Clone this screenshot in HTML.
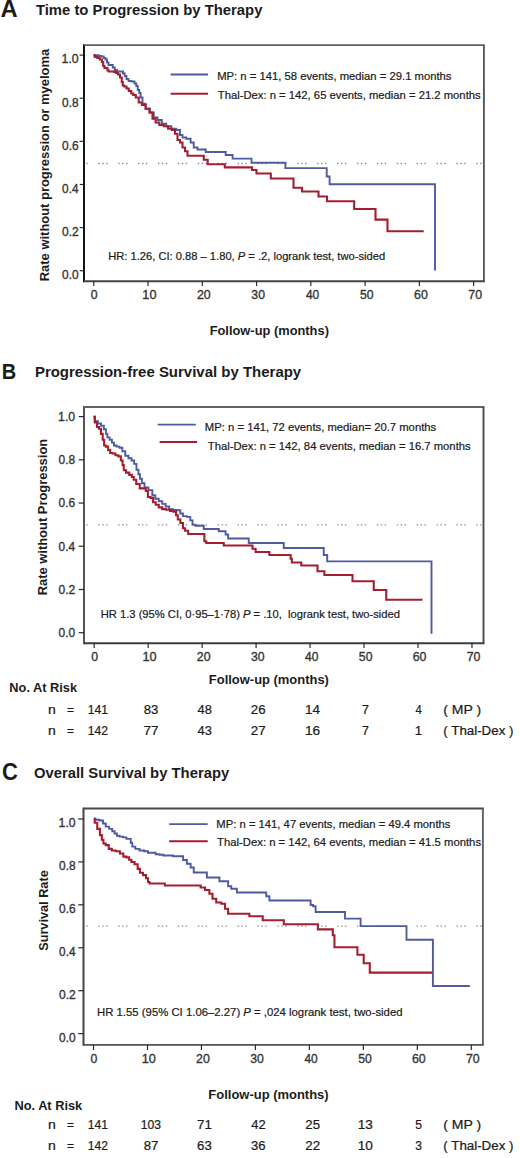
<!DOCTYPE html>
<html><head><meta charset="utf-8"><title>Kaplan-Meier curves by therapy</title>
<style>
html,body{margin:0;padding:0;background:#fff;}
svg{display:block;}
text{font-family:"Liberation Sans",sans-serif;white-space:pre;}
</style></head>
<body>
<svg width="520" height="1158" viewBox="0 0 520 1158">
<rect width="520" height="1158" fill="#fff"/>
<line x1="84.0" y1="44.20" x2="84.0" y2="282.20" stroke="#141414" stroke-width="2"/>
<line x1="84.0" y1="45.1" x2="484.80" y2="45.1" stroke="#606060" stroke-width="1.9"/>
<line x1="483.9" y1="45.1" x2="483.9" y2="281.3" stroke="#575757" stroke-width="1.9"/>
<line x1="84.0" y1="281.3" x2="484.80" y2="281.3" stroke="#444444" stroke-width="1.9"/>
<line x1="84.9" y1="163.5" x2="482.7" y2="163.5" stroke="#8a8a8a" stroke-width="1.3" stroke-dasharray="1.4 2.5 1.4 2.5 1.4 10.7" stroke-dashoffset="6.50"/>
<line x1="79.7" y1="270.72" x2="83.7" y2="270.72" stroke="#2a2a2a" stroke-width="1.2"/>
<line x1="79.7" y1="227.60" x2="83.7" y2="227.60" stroke="#2a2a2a" stroke-width="1.2"/>
<line x1="79.7" y1="184.48" x2="83.7" y2="184.48" stroke="#2a2a2a" stroke-width="1.2"/>
<line x1="79.7" y1="141.35" x2="83.7" y2="141.35" stroke="#2a2a2a" stroke-width="1.2"/>
<line x1="79.7" y1="98.23" x2="83.7" y2="98.23" stroke="#2a2a2a" stroke-width="1.2"/>
<line x1="79.7" y1="55.11" x2="83.7" y2="55.11" stroke="#2a2a2a" stroke-width="1.2"/>
<line x1="93.77" y1="281.0" x2="93.77" y2="286.0" stroke="#2a2a2a" stroke-width="1.2"/>
<line x1="148.04" y1="281.0" x2="148.04" y2="286.0" stroke="#2a2a2a" stroke-width="1.2"/>
<line x1="202.30" y1="281.0" x2="202.30" y2="286.0" stroke="#2a2a2a" stroke-width="1.2"/>
<line x1="256.57" y1="281.0" x2="256.57" y2="286.0" stroke="#2a2a2a" stroke-width="1.2"/>
<line x1="310.84" y1="281.0" x2="310.84" y2="286.0" stroke="#2a2a2a" stroke-width="1.2"/>
<line x1="365.11" y1="281.0" x2="365.11" y2="286.0" stroke="#2a2a2a" stroke-width="1.2"/>
<line x1="419.37" y1="281.0" x2="419.37" y2="286.0" stroke="#2a2a2a" stroke-width="1.2"/>
<line x1="473.64" y1="281.0" x2="473.64" y2="286.0" stroke="#2a2a2a" stroke-width="1.2"/>
<line x1="84.0" y1="406.10" x2="84.0" y2="644.20" stroke="#555555" stroke-width="2"/>
<line x1="84.0" y1="407.0" x2="484.40" y2="407.0" stroke="#646464" stroke-width="1.9"/>
<line x1="483.5" y1="407.0" x2="483.5" y2="643.3" stroke="#4a4a4a" stroke-width="1.9"/>
<line x1="84.0" y1="643.3" x2="484.40" y2="643.3" stroke="#3c3c3c" stroke-width="1.9"/>
<line x1="85.2" y1="524.9" x2="482.3" y2="524.9" stroke="#8a8a8a" stroke-width="1.3" stroke-dasharray="1.4 2.5 1.4 2.5 1.4 10.7" stroke-dashoffset="6.80"/>
<line x1="78.7" y1="632.71" x2="84.0" y2="632.71" stroke="#2a2a2a" stroke-width="1.2"/>
<line x1="78.7" y1="589.49" x2="84.0" y2="589.49" stroke="#2a2a2a" stroke-width="1.2"/>
<line x1="78.7" y1="546.27" x2="84.0" y2="546.27" stroke="#2a2a2a" stroke-width="1.2"/>
<line x1="78.7" y1="503.06" x2="84.0" y2="503.06" stroke="#2a2a2a" stroke-width="1.2"/>
<line x1="78.7" y1="459.84" x2="84.0" y2="459.84" stroke="#2a2a2a" stroke-width="1.2"/>
<line x1="78.7" y1="416.62" x2="84.0" y2="416.62" stroke="#2a2a2a" stroke-width="1.2"/>
<line x1="94.18" y1="643.0" x2="94.18" y2="648.0" stroke="#2a2a2a" stroke-width="1.2"/>
<line x1="148.15" y1="643.0" x2="148.15" y2="648.0" stroke="#2a2a2a" stroke-width="1.2"/>
<line x1="202.12" y1="643.0" x2="202.12" y2="648.0" stroke="#2a2a2a" stroke-width="1.2"/>
<line x1="256.09" y1="643.0" x2="256.09" y2="648.0" stroke="#2a2a2a" stroke-width="1.2"/>
<line x1="310.06" y1="643.0" x2="310.06" y2="648.0" stroke="#2a2a2a" stroke-width="1.2"/>
<line x1="364.03" y1="643.0" x2="364.03" y2="648.0" stroke="#2a2a2a" stroke-width="1.2"/>
<line x1="418.00" y1="643.0" x2="418.00" y2="648.0" stroke="#2a2a2a" stroke-width="1.2"/>
<line x1="471.97" y1="643.0" x2="471.97" y2="648.0" stroke="#2a2a2a" stroke-width="1.2"/>
<line x1="83.5" y1="807.60" x2="83.5" y2="1045.75" stroke="#444444" stroke-width="2"/>
<line x1="83.5" y1="808.5" x2="483.80" y2="808.5" stroke="#4a4a4a" stroke-width="1.9"/>
<line x1="482.9" y1="808.5" x2="482.9" y2="1044.85" stroke="#606060" stroke-width="1.9"/>
<line x1="83.5" y1="1044.85" x2="483.80" y2="1044.85" stroke="#525252" stroke-width="1.9"/>
<line x1="84.7" y1="926.2" x2="481.7" y2="926.2" stroke="#8a8a8a" stroke-width="1.3" stroke-dasharray="1.4 2.5 1.4 2.5 1.4 10.7" stroke-dashoffset="6.30"/>
<line x1="78.2" y1="1033.64" x2="83.5" y2="1033.64" stroke="#2a2a2a" stroke-width="1.2"/>
<line x1="78.2" y1="990.70" x2="83.5" y2="990.70" stroke="#2a2a2a" stroke-width="1.2"/>
<line x1="78.2" y1="947.77" x2="83.5" y2="947.77" stroke="#2a2a2a" stroke-width="1.2"/>
<line x1="78.2" y1="904.83" x2="83.5" y2="904.83" stroke="#2a2a2a" stroke-width="1.2"/>
<line x1="78.2" y1="861.90" x2="83.5" y2="861.90" stroke="#2a2a2a" stroke-width="1.2"/>
<line x1="78.2" y1="818.96" x2="83.5" y2="818.96" stroke="#2a2a2a" stroke-width="1.2"/>
<line x1="93.51" y1="1045.0" x2="93.51" y2="1050.0" stroke="#2a2a2a" stroke-width="1.2"/>
<line x1="147.48" y1="1045.0" x2="147.48" y2="1050.0" stroke="#2a2a2a" stroke-width="1.2"/>
<line x1="201.45" y1="1045.0" x2="201.45" y2="1050.0" stroke="#2a2a2a" stroke-width="1.2"/>
<line x1="255.42" y1="1045.0" x2="255.42" y2="1050.0" stroke="#2a2a2a" stroke-width="1.2"/>
<line x1="309.39" y1="1045.0" x2="309.39" y2="1050.0" stroke="#2a2a2a" stroke-width="1.2"/>
<line x1="363.36" y1="1045.0" x2="363.36" y2="1050.0" stroke="#2a2a2a" stroke-width="1.2"/>
<line x1="417.33" y1="1045.0" x2="417.33" y2="1050.0" stroke="#2a2a2a" stroke-width="1.2"/>
<line x1="471.30" y1="1045.0" x2="471.30" y2="1050.0" stroke="#2a2a2a" stroke-width="1.2"/>
<line x1="170.6" y1="74.5" x2="208.1" y2="74.5" stroke="#4e5b9e" stroke-width="1.8"/>
<line x1="170.6" y1="93.7" x2="208.1" y2="93.7" stroke="#a31f2f" stroke-width="2"/>
<line x1="157.7" y1="424.6" x2="195.8" y2="424.6" stroke="#4e5b9e" stroke-width="1.8"/>
<line x1="159.6" y1="441.9" x2="197.1" y2="441.9" stroke="#a31f2f" stroke-width="2"/>
<line x1="169.2" y1="824.2" x2="207.7" y2="824.2" stroke="#4e5b9e" stroke-width="1.8"/>
<line x1="169.2" y1="841.2" x2="207.7" y2="841.2" stroke="#a31f2f" stroke-width="2"/>
<path d="M93.50,55.30 L98.00,55.30 L98.75,55.30 L98.75,56.00 L99.50,56.00 L101.25,56.00 L101.25,56.50 L103.00,56.50 L103.75,56.50 L103.75,58.00 L104.50,58.00 L105.50,58.00 L105.50,59.50 L106.50,59.50 L107.00,59.50 L107.00,62.50 L107.50,62.50 L108.50,62.50 L108.50,65.00 L109.50,65.00 L112.00,65.00 L112.75,65.00 L112.75,67.50 L113.50,67.50 L114.75,67.50 L114.75,70.00 L116.00,70.00 L117.00,70.00 L117.00,71.50 L118.00,71.50 L122.00,71.50 L123.00,71.50 L123.00,73.50 L124.00,73.50 L124.75,73.50 L124.75,76.00 L125.50,76.00 L126.50,76.00 L126.50,79.00 L127.50,79.00 L128.50,79.00 L128.50,81.00 L129.50,81.00 L131.50,81.00 L131.50,81.50 L133.50,81.50 L134.50,81.50 L134.50,83.50 L135.50,83.50 L136.25,83.50 L136.25,86.00 L137.00,86.00 L137.75,86.00 L137.75,90.00 L138.50,90.00 L139.25,90.00 L139.25,93.00 L140.00,93.00 L140.62,93.00 L140.62,97.50 L141.25,97.50 L142.50,97.50 L142.50,103.75 L143.75,103.75 L145.62,103.75 L145.62,108.75 L147.50,108.75 L150.00,108.75 L150.00,112.50 L152.50,112.50 L153.75,112.50 L153.75,117.50 L155.00,117.50 L157.50,117.50 L157.50,120.00 L160.00,120.00 L161.88,120.00 L161.88,123.75 L163.75,123.75 L166.25,123.75 L166.25,126.25 L168.75,126.25 L171.25,126.25 L171.25,128.75 L173.75,128.75 L176.25,128.75 L176.25,130.00 L178.75,130.00 L180.00,130.00 L180.00,135.00 L181.25,135.00 L182.50,135.00 L182.50,137.50 L183.75,137.50 L186.25,137.50 L186.25,138.75 L188.75,138.75 L190.62,138.75 L190.62,142.50 L192.50,142.50 L193.75,142.50 L193.75,147.50 L195.00,147.50 L197.50,147.50 L197.50,149.50 L200.00,149.50 L205.70,149.50 L205.70,152.00 L225.70,152.00 L225.70,155.00 L232.60,155.00 L232.60,158.60 L251.50,158.60 L251.50,162.70 L285.40,162.70 L285.40,168.10 L326.70,168.10 L326.70,176.50 L329.60,176.50 L329.60,184.20 L435.00,184.20 L435.00,270.60" fill="none" stroke="#4e5b9e" stroke-width="1.9" stroke-linejoin="miter" stroke-linecap="butt"/>
<path d="M93.50,55.30 L94.75,55.30 L94.75,57.00 L96.00,57.00 L97.25,57.00 L97.25,58.00 L98.50,58.00 L99.75,58.00 L99.75,59.50 L101.00,59.50 L102.00,59.50 L102.00,62.00 L103.00,62.00 L103.25,62.00 L103.25,66.00 L103.50,66.00 L104.50,66.00 L104.50,68.00 L105.50,68.00 L107.00,68.00 L107.50,68.00 L107.50,70.50 L108.00,70.50 L108.75,70.50 L108.75,71.50 L109.50,71.50 L113.00,71.50 L114.00,71.50 L114.00,72.00 L115.00,72.00 L116.00,72.00 L116.00,73.00 L117.00,73.00 L118.00,73.00 L118.00,74.50 L119.00,74.50 L120.00,74.50 L120.00,77.50 L121.00,77.50 L121.75,77.50 L121.75,82.00 L122.50,82.00 L122.75,82.00 L122.75,85.50 L123.00,85.50 L124.25,85.50 L124.25,86.50 L125.50,86.50 L126.50,86.50 L126.50,88.50 L127.50,88.50 L128.75,88.50 L128.75,91.00 L130.00,91.00 L131.25,91.00 L131.25,93.50 L132.50,93.50 L133.25,93.50 L133.25,95.00 L134.00,95.00 L135.75,95.00 L135.75,97.50 L137.50,97.50 L138.75,97.50 L138.75,102.50 L140.00,102.50 L141.88,102.50 L141.88,105.00 L143.75,105.00 L145.62,105.00 L145.62,108.75 L147.50,108.75 L149.38,108.75 L149.38,112.50 L151.25,112.50 L152.50,112.50 L152.50,118.75 L153.75,118.75 L155.62,118.75 L155.62,122.50 L157.50,122.50 L159.38,122.50 L159.38,125.00 L161.25,125.00 L163.75,125.00 L163.75,126.25 L166.25,126.25 L168.12,126.25 L168.12,128.75 L170.00,128.75 L171.88,128.75 L171.88,130.00 L173.75,130.00 L175.00,130.00 L175.00,133.75 L176.25,133.75 L177.50,133.75 L177.50,140.00 L178.75,140.00 L180.00,140.00 L180.00,142.50 L181.25,142.50 L182.50,142.50 L182.50,147.50 L183.75,147.50 L185.00,147.50 L185.00,151.25 L186.25,151.25 L187.50,151.25 L187.50,155.70 L188.75,155.70 L203.80,155.70 L203.80,159.70 L207.70,159.70 L207.70,164.20 L224.80,164.20 L224.80,167.40 L252.00,167.40 L252.00,170.00 L256.50,170.00 L256.50,173.50 L270.80,173.50 L270.80,178.50 L293.50,178.50 L293.50,187.70 L302.00,187.70 L302.00,191.50 L318.50,191.50 L318.50,196.50 L327.00,196.50 L327.00,201.20 L354.20,201.20 L354.20,209.00 L375.50,209.00 L375.50,219.60 L387.50,219.60 L387.50,231.20 L423.75,231.20" fill="none" stroke="#a31f2f" stroke-width="2.1" stroke-linejoin="miter" stroke-linecap="butt"/>
<path d="M93.50,416.80 L94.80,416.80 L94.80,421.20 L96.10,421.20 L97.80,421.20 L97.80,423.50 L99.50,423.50 L100.95,423.50 L100.95,425.80 L102.40,425.80 L103.85,425.80 L103.85,429.30 L105.30,429.30 L105.90,429.30 L105.90,433.90 L106.50,433.90 L107.35,433.90 L107.35,437.40 L108.20,437.40 L109.65,437.40 L109.65,439.70 L111.10,439.70 L111.95,439.70 L111.95,442.60 L112.80,442.60 L113.95,442.60 L113.95,445.50 L115.10,445.50 L116.55,445.50 L116.55,446.60 L118.00,446.60 L119.45,446.60 L119.45,447.80 L120.90,447.80 L122.35,447.80 L122.35,451.20 L123.80,451.20 L125.25,451.20 L125.25,455.80 L126.70,455.80 L128.40,455.80 L128.40,458.20 L130.10,458.20 L131.55,458.20 L131.55,460.50 L133.00,460.50 L134.15,460.50 L134.15,463.90 L135.30,463.90 L136.45,463.90 L136.45,469.70 L137.60,469.70 L138.45,469.70 L138.45,474.30 L139.30,474.30 L139.95,474.30 L139.95,478.80 L140.60,478.80 L141.90,478.80 L141.90,483.20 L143.20,483.20 L144.50,483.20 L144.50,487.50 L145.80,487.50 L148.40,487.50 L148.40,490.10 L151.00,490.10 L152.30,490.10 L152.30,495.30 L153.60,495.30 L155.30,495.30 L155.30,498.70 L157.00,498.70 L158.75,498.70 L158.75,501.30 L160.50,501.30 L162.20,501.30 L162.20,503.90 L163.90,503.90 L165.65,503.90 L165.65,506.50 L167.40,506.50 L169.15,506.50 L169.15,509.10 L170.90,509.10 L173.05,509.10 L173.05,510.00 L175.20,510.00 L177.35,510.00 L177.35,510.30 L179.50,510.30 L180.35,510.30 L180.35,513.50 L181.20,513.50 L182.95,513.50 L182.95,516.10 L184.70,516.10 L186.85,516.10 L186.85,516.90 L189.00,516.90 L190.30,516.90 L190.30,520.40 L191.60,520.40 L192.50,520.40 L192.50,524.70 L193.40,524.70 L195.55,524.70 L195.55,525.80 L197.70,525.80 L203.75,525.80 L203.75,529.00 L218.75,529.00 L218.75,531.25 L225.00,531.25 L225.62,531.25 L225.62,534.50 L226.25,534.50 L228.12,534.50 L228.12,538.50 L230.00,538.50 L248.75,538.50 L248.75,543.00 L283.75,543.00 L283.75,548.00 L323.75,548.00 L323.75,555.00 L327.20,555.00 L327.20,561.40 L431.50,561.40 L431.50,633.80" fill="none" stroke="#4e5b9e" stroke-width="1.9" stroke-linejoin="miter" stroke-linecap="butt"/>
<path d="M93.50,416.80 L94.80,416.80 L94.80,422.40 L96.10,422.40 L96.95,422.40 L96.95,427.00 L97.80,427.00 L98.95,427.00 L98.95,428.70 L100.10,428.70 L100.95,428.70 L100.95,433.90 L101.80,433.90 L102.70,433.90 L102.70,439.70 L103.60,439.70 L104.15,439.70 L104.15,445.50 L104.70,445.50 L105.85,445.50 L105.85,446.60 L107.00,446.60 L108.15,446.60 L108.15,450.10 L109.30,450.10 L110.20,450.10 L110.20,453.00 L111.10,453.00 L112.55,453.00 L112.55,453.50 L114.00,453.50 L115.40,453.50 L115.40,455.30 L116.80,455.30 L118.25,455.30 L118.25,456.40 L119.70,456.40 L120.85,456.40 L120.85,460.50 L122.00,460.50 L122.60,460.50 L122.60,465.10 L123.20,465.10 L123.75,465.10 L123.75,470.30 L124.30,470.30 L126.05,470.30 L126.05,472.60 L127.80,472.60 L129.25,472.60 L129.25,474.90 L130.70,474.90 L131.85,474.90 L131.85,477.00 L133.00,477.00 L133.75,477.00 L133.75,479.70 L134.50,479.70 L136.25,479.70 L136.25,484.00 L138.00,484.00 L139.70,484.00 L139.70,488.40 L141.40,488.40 L144.90,488.40 L145.75,488.40 L145.75,491.00 L146.60,491.00 L147.90,491.00 L147.90,497.00 L149.20,497.00 L150.50,497.00 L150.50,497.90 L151.80,497.90 L153.10,497.90 L153.10,502.20 L154.40,502.20 L155.70,502.20 L155.70,504.80 L157.00,504.80 L158.75,504.80 L158.75,507.40 L160.50,507.40 L162.20,507.40 L162.20,509.10 L163.90,509.10 L166.10,509.10 L166.10,509.70 L168.30,509.70 L170.00,509.70 L170.00,510.90 L171.70,510.90 L173.45,510.90 L173.45,511.70 L175.20,511.70 L176.05,511.70 L176.05,515.20 L176.90,515.20 L177.80,515.20 L177.80,519.50 L178.70,519.50 L180.40,519.50 L180.40,523.00 L182.10,523.00 L182.95,523.00 L182.95,528.20 L183.80,528.20 L185.10,528.20 L185.10,530.80 L186.40,530.80 L188.15,530.80 L188.15,534.00 L189.90,534.00 L203.75,534.00 L204.38,534.00 L204.38,541.25 L205.00,541.25 L206.25,541.25 L206.25,543.00 L207.50,543.00 L223.75,543.00 L223.75,545.50 L251.25,545.50 L252.50,545.50 L252.50,548.75 L253.75,548.75 L255.62,548.75 L255.62,552.00 L257.50,552.00 L268.75,552.00 L269.38,552.00 L269.38,555.00 L270.00,555.00 L290.00,555.00 L290.62,555.00 L290.62,558.75 L291.25,558.75 L291.88,558.75 L291.88,562.50 L292.50,562.50 L301.25,562.50 L301.25,565.50 L317.50,565.50 L317.50,571.25 L323.75,571.25 L324.38,571.25 L324.38,575.00 L325.00,575.00 L352.50,575.00 L352.50,581.25 L373.75,581.25 L373.75,590.00 L386.25,590.00 L386.25,599.80 L422.50,599.80" fill="none" stroke="#a31f2f" stroke-width="2.1" stroke-linejoin="miter" stroke-linecap="butt"/>
<path d="M93.80,818.80 L95.50,818.80 L95.50,819.70 L97.20,819.70 L99.50,819.70 L99.50,820.50 L101.80,820.50 L103.00,820.50 L103.00,823.50 L104.20,823.50 L105.70,823.50 L105.70,826.60 L107.20,826.60 L109.15,826.60 L109.15,828.90 L111.10,828.90 L112.25,828.90 L112.25,831.20 L113.40,831.20 L114.55,831.20 L114.55,833.50 L115.70,833.50 L116.85,833.50 L116.85,835.80 L118.00,835.80 L119.55,835.80 L119.55,836.60 L121.10,836.60 L123.00,836.60 L123.00,837.40 L124.90,837.40 L126.45,837.40 L126.45,838.90 L128.00,838.90 L130.30,838.90 L130.70,838.90 L130.70,842.80 L131.10,842.80 L132.25,842.80 L132.25,846.60 L133.40,846.60 L135.30,846.60 L135.30,848.90 L137.20,848.90 L139.50,848.90 L139.50,850.50 L141.80,850.50 L144.15,850.50 L144.15,851.20 L146.50,851.20 L148.00,851.20 L148.00,852.80 L149.50,852.80 L154.20,852.80 L155.70,852.80 L155.70,854.30 L157.20,854.30 L159.50,854.30 L159.50,854.80 L161.80,854.80 L163.40,854.80 L163.40,855.50 L165.00,855.50 L173.12,855.50 L173.12,856.25 L181.25,856.25 L183.12,856.25 L183.12,860.00 L185.00,860.00 L186.88,860.00 L186.88,863.75 L188.75,863.75 L190.62,863.75 L190.62,867.50 L192.50,867.50 L193.75,867.50 L193.75,872.50 L195.00,872.50 L206.25,872.50 L206.88,872.50 L206.88,877.50 L207.50,877.50 L218.75,877.50 L219.38,877.50 L219.38,881.25 L220.00,881.25 L227.50,881.25 L228.12,881.25 L228.12,886.25 L228.75,886.25 L231.25,886.25 L231.25,888.75 L233.75,888.75 L236.88,888.75 L236.88,892.50 L240.00,892.50 L265.00,892.50 L266.25,892.50 L266.25,896.25 L267.50,896.25 L269.38,896.25 L269.38,900.50 L271.25,900.50 L310.00,900.50 L310.62,900.50 L310.62,905.00 L311.25,905.00 L313.12,905.00 L313.12,906.25 L315.00,906.25 L315.62,906.25 L315.62,912.00 L316.25,912.00 L345.00,912.00 L345.00,918.60 L360.60,918.60 L360.60,926.10 L406.50,926.10 L406.50,939.70 L432.90,939.70 L432.90,986.00 L469.80,986.00" fill="none" stroke="#4e5b9e" stroke-width="1.9" stroke-linejoin="miter" stroke-linecap="butt"/>
<path d="M93.80,818.80 L94.75,818.80 L94.75,822.80 L95.70,822.80 L97.25,822.80 L97.25,828.90 L98.80,828.90 L99.95,828.90 L99.95,835.10 L101.10,835.10 L101.85,835.10 L101.85,839.70 L102.60,839.70 L103.40,839.70 L103.40,843.50 L104.20,843.50 L105.70,843.50 L105.70,845.10 L107.20,845.10 L108.75,845.10 L108.75,848.90 L110.30,848.90 L111.85,848.90 L111.85,850.50 L113.40,850.50 L115.70,850.50 L115.70,851.20 L118.00,851.20 L119.90,851.20 L119.90,853.50 L121.80,853.50 L123.35,853.50 L123.35,856.60 L124.90,856.60 L126.45,856.60 L126.45,857.40 L128.00,857.40 L129.15,857.40 L129.15,859.70 L130.30,859.70 L131.45,859.70 L131.45,862.00 L132.60,862.00 L134.55,862.00 L134.55,864.30 L136.50,864.30 L137.65,864.30 L137.65,868.90 L138.80,868.90 L139.95,868.90 L139.95,872.80 L141.10,872.80 L143.00,872.80 L143.00,875.10 L144.90,875.10 L146.05,875.10 L146.05,878.20 L147.20,878.20 L148.00,878.20 L148.00,882.00 L148.80,882.00 L149.55,882.00 L149.55,883.50 L150.30,883.50 L163.40,883.50 L164.82,883.50 L164.82,885.50 L166.25,885.50 L198.75,885.50 L200.62,885.50 L200.62,887.50 L202.50,887.50 L205.00,887.50 L205.00,890.00 L207.50,890.00 L209.38,890.00 L209.38,893.75 L211.25,893.75 L212.50,893.75 L212.50,898.75 L213.75,898.75 L216.25,898.75 L216.25,902.50 L218.75,902.50 L221.25,902.50 L221.25,903.75 L223.75,903.75 L225.00,903.75 L225.00,908.75 L226.25,908.75 L228.12,908.75 L228.12,913.75 L230.00,913.75 L248.75,913.75 L249.38,913.75 L249.38,916.25 L250.00,916.25 L262.70,916.25 L262.70,920.30 L283.80,920.30 L283.80,924.30 L317.90,924.30 L317.90,929.40 L332.80,929.40 L332.80,935.20 L334.10,935.20 L334.45,935.20 L334.45,947.30 L334.80,947.30 L357.40,947.30 L357.40,954.70 L363.70,954.70 L363.70,963.20 L369.80,963.20 L369.80,972.60 L432.50,972.60" fill="none" stroke="#a31f2f" stroke-width="2.1" stroke-linejoin="miter" stroke-linecap="butt"/>
<text x="0.44" y="17.30" font-size="23" font-weight="bold" textLength="17.18" lengthAdjust="spacingAndGlyphs" fill="#1c1c1c">A</text>
<text x="1.85" y="379.30" font-size="22.5" font-weight="bold" textLength="14.44" lengthAdjust="spacingAndGlyphs" fill="#1c1c1c">B</text>
<text x="2.07" y="780.00" font-size="23" font-weight="bold" textLength="15.89" lengthAdjust="spacingAndGlyphs" fill="#1c1c1c">C</text>
<text x="35.90" y="14.50" font-size="14" font-weight="bold" textLength="226.50" lengthAdjust="spacingAndGlyphs" fill="#1c1c1c">Time to Progression by Therapy</text>
<text x="34.90" y="376.80" font-size="14" font-weight="bold" textLength="266.31" lengthAdjust="spacingAndGlyphs" fill="#1c1c1c">Progression-free Survival by Therapy</text>
<text x="33.96" y="778.10" font-size="14" font-weight="bold" textLength="195.24" lengthAdjust="spacingAndGlyphs" fill="#1c1c1c">Overall Survival by Therapy</text>
<text x="62.07" y="279.02" font-size="12" font-weight="normal" textLength="16.55" lengthAdjust="spacingAndGlyphs" fill="#363636" stroke="#363636" stroke-width="0.35">0.0</text>
<text x="62.07" y="235.90" font-size="12" font-weight="normal" textLength="16.68" lengthAdjust="spacingAndGlyphs" fill="#363636" stroke="#363636" stroke-width="0.35">0.2</text>
<text x="62.08" y="192.78" font-size="12" font-weight="normal" textLength="16.43" lengthAdjust="spacingAndGlyphs" fill="#363636" stroke="#363636" stroke-width="0.35">0.4</text>
<text x="62.07" y="149.65" font-size="12" font-weight="normal" textLength="16.55" lengthAdjust="spacingAndGlyphs" fill="#363636" stroke="#363636" stroke-width="0.35">0.6</text>
<text x="62.07" y="106.53" font-size="12" font-weight="normal" textLength="16.55" lengthAdjust="spacingAndGlyphs" fill="#363636" stroke="#363636" stroke-width="0.35">0.8</text>
<text x="61.57" y="63.41" font-size="12" font-weight="normal" textLength="17.08" lengthAdjust="spacingAndGlyphs" fill="#363636" stroke="#363636" stroke-width="0.35">1.0</text>
<text x="90.83" y="298.50" font-size="12" font-weight="normal" textLength="6.84" lengthAdjust="spacingAndGlyphs" fill="#363636" stroke="#363636" stroke-width="0.35">0</text>
<text x="142.32" y="298.50" font-size="12" font-weight="normal" textLength="14.16" lengthAdjust="spacingAndGlyphs" fill="#363636" stroke="#363636" stroke-width="0.35">10</text>
<text x="196.99" y="298.50" font-size="12" font-weight="normal" textLength="13.74" lengthAdjust="spacingAndGlyphs" fill="#363636" stroke="#363636" stroke-width="0.35">20</text>
<text x="251.38" y="298.50" font-size="12" font-weight="normal" textLength="13.61" lengthAdjust="spacingAndGlyphs" fill="#363636" stroke="#363636" stroke-width="0.35">30</text>
<text x="305.90" y="298.50" font-size="12" font-weight="normal" textLength="13.35" lengthAdjust="spacingAndGlyphs" fill="#363636" stroke="#363636" stroke-width="0.35">40</text>
<text x="359.92" y="298.50" font-size="12" font-weight="normal" textLength="13.61" lengthAdjust="spacingAndGlyphs" fill="#363636" stroke="#363636" stroke-width="0.35">50</text>
<text x="414.05" y="298.50" font-size="12" font-weight="normal" textLength="13.74" lengthAdjust="spacingAndGlyphs" fill="#363636" stroke="#363636" stroke-width="0.35">60</text>
<text x="468.32" y="298.50" font-size="12" font-weight="normal" textLength="13.74" lengthAdjust="spacingAndGlyphs" fill="#363636" stroke="#363636" stroke-width="0.35">70</text>
<text x="209.65" y="335.20" font-size="12.8" font-weight="bold" textLength="119.28" lengthAdjust="spacingAndGlyphs" fill="#1c1c1c">Follow-up (months)</text>
<text transform="translate(49.00,280.35) rotate(-90)" x="-0.91" y="0" font-size="12.8" font-weight="bold" textLength="232.37" lengthAdjust="spacingAndGlyphs" fill="#1c1c1c">Rate without progression or myeloma</text>
<text x="58.57" y="637.01" font-size="12" font-weight="normal" textLength="16.55" lengthAdjust="spacingAndGlyphs" fill="#363636" stroke="#363636" stroke-width="0.35">0.0</text>
<text x="58.57" y="593.79" font-size="12" font-weight="normal" textLength="16.68" lengthAdjust="spacingAndGlyphs" fill="#363636" stroke="#363636" stroke-width="0.35">0.2</text>
<text x="58.58" y="550.57" font-size="12" font-weight="normal" textLength="16.43" lengthAdjust="spacingAndGlyphs" fill="#363636" stroke="#363636" stroke-width="0.35">0.4</text>
<text x="58.57" y="507.36" font-size="12" font-weight="normal" textLength="16.55" lengthAdjust="spacingAndGlyphs" fill="#363636" stroke="#363636" stroke-width="0.35">0.6</text>
<text x="58.57" y="464.14" font-size="12" font-weight="normal" textLength="16.55" lengthAdjust="spacingAndGlyphs" fill="#363636" stroke="#363636" stroke-width="0.35">0.8</text>
<text x="58.07" y="420.92" font-size="12" font-weight="normal" textLength="17.08" lengthAdjust="spacingAndGlyphs" fill="#363636" stroke="#363636" stroke-width="0.35">1.0</text>
<text x="91.24" y="661.40" font-size="12" font-weight="normal" textLength="6.84" lengthAdjust="spacingAndGlyphs" fill="#363636" stroke="#363636" stroke-width="0.35">0</text>
<text x="142.43" y="661.40" font-size="12" font-weight="normal" textLength="14.16" lengthAdjust="spacingAndGlyphs" fill="#363636" stroke="#363636" stroke-width="0.35">10</text>
<text x="196.80" y="661.40" font-size="12" font-weight="normal" textLength="13.74" lengthAdjust="spacingAndGlyphs" fill="#363636" stroke="#363636" stroke-width="0.35">20</text>
<text x="250.90" y="661.40" font-size="12" font-weight="normal" textLength="13.61" lengthAdjust="spacingAndGlyphs" fill="#363636" stroke="#363636" stroke-width="0.35">30</text>
<text x="305.12" y="661.40" font-size="12" font-weight="normal" textLength="13.35" lengthAdjust="spacingAndGlyphs" fill="#363636" stroke="#363636" stroke-width="0.35">40</text>
<text x="358.84" y="661.40" font-size="12" font-weight="normal" textLength="13.61" lengthAdjust="spacingAndGlyphs" fill="#363636" stroke="#363636" stroke-width="0.35">50</text>
<text x="412.68" y="661.40" font-size="12" font-weight="normal" textLength="13.74" lengthAdjust="spacingAndGlyphs" fill="#363636" stroke="#363636" stroke-width="0.35">60</text>
<text x="466.65" y="661.40" font-size="12" font-weight="normal" textLength="13.74" lengthAdjust="spacingAndGlyphs" fill="#363636" stroke="#363636" stroke-width="0.35">70</text>
<text x="208.84" y="684.40" font-size="12.8" font-weight="bold" textLength="120.10" lengthAdjust="spacingAndGlyphs" fill="#1c1c1c">Follow-up (months)</text>
<text transform="translate(47.30,594.45) rotate(-90)" x="-0.90" y="0" font-size="12.8" font-weight="bold" textLength="156.51" lengthAdjust="spacingAndGlyphs" fill="#1c1c1c">Rate without Progression</text>
<text x="59.07" y="1041.94" font-size="12" font-weight="normal" textLength="16.55" lengthAdjust="spacingAndGlyphs" fill="#363636" stroke="#363636" stroke-width="0.35">0.0</text>
<text x="59.07" y="999.00" font-size="12" font-weight="normal" textLength="16.68" lengthAdjust="spacingAndGlyphs" fill="#363636" stroke="#363636" stroke-width="0.35">0.2</text>
<text x="59.08" y="956.07" font-size="12" font-weight="normal" textLength="16.43" lengthAdjust="spacingAndGlyphs" fill="#363636" stroke="#363636" stroke-width="0.35">0.4</text>
<text x="59.07" y="913.13" font-size="12" font-weight="normal" textLength="16.55" lengthAdjust="spacingAndGlyphs" fill="#363636" stroke="#363636" stroke-width="0.35">0.6</text>
<text x="59.07" y="870.20" font-size="12" font-weight="normal" textLength="16.55" lengthAdjust="spacingAndGlyphs" fill="#363636" stroke="#363636" stroke-width="0.35">0.8</text>
<text x="58.57" y="827.26" font-size="12" font-weight="normal" textLength="17.08" lengthAdjust="spacingAndGlyphs" fill="#363636" stroke="#363636" stroke-width="0.35">1.0</text>
<text x="90.57" y="1063.20" font-size="12" font-weight="normal" textLength="6.84" lengthAdjust="spacingAndGlyphs" fill="#363636" stroke="#363636" stroke-width="0.35">0</text>
<text x="141.76" y="1063.20" font-size="12" font-weight="normal" textLength="14.16" lengthAdjust="spacingAndGlyphs" fill="#363636" stroke="#363636" stroke-width="0.35">10</text>
<text x="196.13" y="1063.20" font-size="12" font-weight="normal" textLength="13.74" lengthAdjust="spacingAndGlyphs" fill="#363636" stroke="#363636" stroke-width="0.35">20</text>
<text x="250.23" y="1063.20" font-size="12" font-weight="normal" textLength="13.61" lengthAdjust="spacingAndGlyphs" fill="#363636" stroke="#363636" stroke-width="0.35">30</text>
<text x="304.45" y="1063.20" font-size="12" font-weight="normal" textLength="13.35" lengthAdjust="spacingAndGlyphs" fill="#363636" stroke="#363636" stroke-width="0.35">40</text>
<text x="358.17" y="1063.20" font-size="12" font-weight="normal" textLength="13.61" lengthAdjust="spacingAndGlyphs" fill="#363636" stroke="#363636" stroke-width="0.35">50</text>
<text x="412.01" y="1063.20" font-size="12" font-weight="normal" textLength="13.74" lengthAdjust="spacingAndGlyphs" fill="#363636" stroke="#363636" stroke-width="0.35">60</text>
<text x="465.98" y="1063.20" font-size="12" font-weight="normal" textLength="13.74" lengthAdjust="spacingAndGlyphs" fill="#363636" stroke="#363636" stroke-width="0.35">70</text>
<text x="208.34" y="1098.80" font-size="12.8" font-weight="bold" textLength="120.30" lengthAdjust="spacingAndGlyphs" fill="#1c1c1c">Follow-up (months)</text>
<text transform="translate(48.20,950.45) rotate(-90)" x="-0.38" y="0" font-size="12.8" font-weight="bold" textLength="80.55" lengthAdjust="spacingAndGlyphs" fill="#1c1c1c">Survival Rate</text>
<text x="217.15" y="79.70" font-size="11.5" font-weight="normal" textLength="234.36" lengthAdjust="spacingAndGlyphs" fill="#1c1c1c" stroke="#1c1c1c" stroke-width="0.22">MP: n = 141, 58 events, median = 29.1 months</text>
<text x="217.82" y="98.90" font-size="11.5" font-weight="normal" textLength="262.84" lengthAdjust="spacingAndGlyphs" fill="#1c1c1c" stroke="#1c1c1c" stroke-width="0.22">Thal-Dex: n = 142, 65 events, median = 21.2 months</text>
<text x="204.85" y="430.80" font-size="11.5" font-weight="normal" textLength="231.37" lengthAdjust="spacingAndGlyphs" fill="#1c1c1c" stroke="#1c1c1c" stroke-width="0.22">MP: n = 141, 72 events, median= 20.7 months</text>
<text x="207.82" y="449.60" font-size="11.5" font-weight="normal" textLength="262.84" lengthAdjust="spacingAndGlyphs" fill="#1c1c1c" stroke="#1c1c1c" stroke-width="0.22">Thal-Dex: n = 142, 84 events, median = 16.7 months</text>
<text x="216.35" y="827.50" font-size="11.5" font-weight="normal" textLength="234.06" lengthAdjust="spacingAndGlyphs" fill="#1c1c1c" stroke="#1c1c1c" stroke-width="0.22">MP: n = 141, 47 events, median = 49.4 months</text>
<text x="217.02" y="846.20" font-size="11.5" font-weight="normal" textLength="264.05" lengthAdjust="spacingAndGlyphs" fill="#1c1c1c" stroke="#1c1c1c" stroke-width="0.22">Thal-Dex: n = 142, 64 events, median = 41.5 months</text>
<text x="108.16" y="259.60" font-size="11.8" font-weight="normal" textLength="276.96" lengthAdjust="spacingAndGlyphs" fill="#1c1c1c" stroke="#1c1c1c" stroke-width="0.22">HR: 1.26, CI: 0.88 – 1.80, <tspan font-style="italic">P</tspan> = .2, logrank test, two-sided</text>
<text x="100.76" y="617.80" font-size="11.8" font-weight="normal" textLength="299.20" lengthAdjust="spacingAndGlyphs" fill="#1c1c1c" stroke="#1c1c1c" stroke-width="0.22">HR 1.3 (95% CI, 0·95–1·78) <tspan font-style="italic">P</tspan> = .10,  logrank test, two-sided</text>
<text x="97.04" y="1016.10" font-size="11.8" font-weight="normal" textLength="305.51" lengthAdjust="spacingAndGlyphs" fill="#1c1c1c" stroke="#1c1c1c" stroke-width="0.22">HR 1.55 (95% CI 1.06–2.27) <tspan font-style="italic">P</tspan> = ,024 logrank test, two-sided</text>
<text x="9.36" y="691.80" font-size="12" font-weight="bold" textLength="67.68" lengthAdjust="spacingAndGlyphs" fill="#1c1c1c">No. At Risk</text>
<text x="47.97" y="713.80" font-size="12.3" font-weight="normal" textLength="7.81" lengthAdjust="spacingAndGlyphs" fill="#1c1c1c" stroke="#1c1c1c" stroke-width="0.22">n</text>
<text x="66.96" y="713.80" font-size="12.3" font-weight="normal" textLength="6.94" lengthAdjust="spacingAndGlyphs" fill="#1c1c1c" stroke="#1c1c1c" stroke-width="0.22">=</text>
<text x="87.68" y="713.80" font-size="12.3" font-weight="normal" textLength="20.26" lengthAdjust="spacingAndGlyphs" fill="#1c1c1c" stroke="#1c1c1c" stroke-width="0.22">141</text>
<text x="143.73" y="713.80" font-size="12.3" font-weight="normal" textLength="14.58" lengthAdjust="spacingAndGlyphs" fill="#1c1c1c" stroke="#1c1c1c" stroke-width="0.22">83</text>
<text x="197.49" y="713.80" font-size="12.3" font-weight="normal" textLength="14.30" lengthAdjust="spacingAndGlyphs" fill="#1c1c1c" stroke="#1c1c1c" stroke-width="0.22">48</text>
<text x="250.89" y="713.80" font-size="12.3" font-weight="normal" textLength="14.72" lengthAdjust="spacingAndGlyphs" fill="#1c1c1c" stroke="#1c1c1c" stroke-width="0.22">26</text>
<text x="304.97" y="713.80" font-size="12.3" font-weight="normal" textLength="15.02" lengthAdjust="spacingAndGlyphs" fill="#1c1c1c" stroke="#1c1c1c" stroke-width="0.22">14</text>
<text x="362.13" y="713.80" font-size="12.3" font-weight="normal" textLength="6.89" lengthAdjust="spacingAndGlyphs" fill="#1c1c1c" stroke="#1c1c1c" stroke-width="0.22">7</text>
<text x="415.53" y="713.80" font-size="12.3" font-weight="normal" textLength="6.22" lengthAdjust="spacingAndGlyphs" fill="#1c1c1c" stroke="#1c1c1c" stroke-width="0.22">4</text>
<text x="443.31" y="713.80" font-size="12.3" font-weight="normal" textLength="37.94" lengthAdjust="spacingAndGlyphs" fill="#1c1c1c" stroke="#1c1c1c" stroke-width="0.22">( MP )</text>
<text x="47.97" y="734.80" font-size="12.3" font-weight="normal" textLength="7.81" lengthAdjust="spacingAndGlyphs" fill="#1c1c1c" stroke="#1c1c1c" stroke-width="0.22">n</text>
<text x="66.96" y="734.80" font-size="12.3" font-weight="normal" textLength="6.94" lengthAdjust="spacingAndGlyphs" fill="#1c1c1c" stroke="#1c1c1c" stroke-width="0.22">=</text>
<text x="87.68" y="734.80" font-size="12.3" font-weight="normal" textLength="20.26" lengthAdjust="spacingAndGlyphs" fill="#1c1c1c" stroke="#1c1c1c" stroke-width="0.22">142</text>
<text x="143.58" y="734.80" font-size="12.3" font-weight="normal" textLength="14.87" lengthAdjust="spacingAndGlyphs" fill="#1c1c1c" stroke="#1c1c1c" stroke-width="0.22">77</text>
<text x="197.49" y="734.80" font-size="12.3" font-weight="normal" textLength="14.30" lengthAdjust="spacingAndGlyphs" fill="#1c1c1c" stroke="#1c1c1c" stroke-width="0.22">43</text>
<text x="250.88" y="734.80" font-size="12.3" font-weight="normal" textLength="14.87" lengthAdjust="spacingAndGlyphs" fill="#1c1c1c" stroke="#1c1c1c" stroke-width="0.22">27</text>
<text x="304.96" y="734.80" font-size="12.3" font-weight="normal" textLength="15.17" lengthAdjust="spacingAndGlyphs" fill="#1c1c1c" stroke="#1c1c1c" stroke-width="0.22">16</text>
<text x="362.13" y="734.80" font-size="12.3" font-weight="normal" textLength="6.89" lengthAdjust="spacingAndGlyphs" fill="#1c1c1c" stroke="#1c1c1c" stroke-width="0.22">7</text>
<text x="414.69" y="734.80" font-size="12.3" font-weight="normal" textLength="7.37" lengthAdjust="spacingAndGlyphs" fill="#1c1c1c" stroke="#1c1c1c" stroke-width="0.22">1</text>
<text x="443.35" y="734.80" font-size="12.3" font-weight="normal" textLength="70.10" lengthAdjust="spacingAndGlyphs" fill="#1c1c1c" stroke="#1c1c1c" stroke-width="0.22">( Thal-Dex )</text>
<text x="14.45" y="1110.00" font-size="12" font-weight="bold" textLength="67.78" lengthAdjust="spacingAndGlyphs" fill="#1c1c1c">No. At Risk</text>
<text x="47.97" y="1129.40" font-size="12.3" font-weight="normal" textLength="7.81" lengthAdjust="spacingAndGlyphs" fill="#1c1c1c" stroke="#1c1c1c" stroke-width="0.22">n</text>
<text x="66.96" y="1129.40" font-size="12.3" font-weight="normal" textLength="6.94" lengthAdjust="spacingAndGlyphs" fill="#1c1c1c" stroke="#1c1c1c" stroke-width="0.22">=</text>
<text x="87.68" y="1129.40" font-size="12.3" font-weight="normal" textLength="20.26" lengthAdjust="spacingAndGlyphs" fill="#1c1c1c" stroke="#1c1c1c" stroke-width="0.22">141</text>
<text x="140.68" y="1129.40" font-size="12.3" font-weight="normal" textLength="20.26" lengthAdjust="spacingAndGlyphs" fill="#1c1c1c" stroke="#1c1c1c" stroke-width="0.22">103</text>
<text x="197.08" y="1129.40" font-size="12.3" font-weight="normal" textLength="14.87" lengthAdjust="spacingAndGlyphs" fill="#1c1c1c" stroke="#1c1c1c" stroke-width="0.22">71</text>
<text x="251.29" y="1129.40" font-size="12.3" font-weight="normal" textLength="14.44" lengthAdjust="spacingAndGlyphs" fill="#1c1c1c" stroke="#1c1c1c" stroke-width="0.22">42</text>
<text x="305.39" y="1129.40" font-size="12.3" font-weight="normal" textLength="14.72" lengthAdjust="spacingAndGlyphs" fill="#1c1c1c" stroke="#1c1c1c" stroke-width="0.22">25</text>
<text x="357.76" y="1129.40" font-size="12.3" font-weight="normal" textLength="15.17" lengthAdjust="spacingAndGlyphs" fill="#1c1c1c" stroke="#1c1c1c" stroke-width="0.22">13</text>
<text x="415.26" y="1129.40" font-size="12.3" font-weight="normal" textLength="6.75" lengthAdjust="spacingAndGlyphs" fill="#1c1c1c" stroke="#1c1c1c" stroke-width="0.22">5</text>
<text x="443.31" y="1129.40" font-size="12.3" font-weight="normal" textLength="37.94" lengthAdjust="spacingAndGlyphs" fill="#1c1c1c" stroke="#1c1c1c" stroke-width="0.22">( MP )</text>
<text x="47.97" y="1150.40" font-size="12.3" font-weight="normal" textLength="7.81" lengthAdjust="spacingAndGlyphs" fill="#1c1c1c" stroke="#1c1c1c" stroke-width="0.22">n</text>
<text x="66.96" y="1150.40" font-size="12.3" font-weight="normal" textLength="6.94" lengthAdjust="spacingAndGlyphs" fill="#1c1c1c" stroke="#1c1c1c" stroke-width="0.22">=</text>
<text x="87.68" y="1150.40" font-size="12.3" font-weight="normal" textLength="20.26" lengthAdjust="spacingAndGlyphs" fill="#1c1c1c" stroke="#1c1c1c" stroke-width="0.22">142</text>
<text x="143.72" y="1150.40" font-size="12.3" font-weight="normal" textLength="14.72" lengthAdjust="spacingAndGlyphs" fill="#1c1c1c" stroke="#1c1c1c" stroke-width="0.22">87</text>
<text x="197.09" y="1150.40" font-size="12.3" font-weight="normal" textLength="14.72" lengthAdjust="spacingAndGlyphs" fill="#1c1c1c" stroke="#1c1c1c" stroke-width="0.22">63</text>
<text x="251.03" y="1150.40" font-size="12.3" font-weight="normal" textLength="14.58" lengthAdjust="spacingAndGlyphs" fill="#1c1c1c" stroke="#1c1c1c" stroke-width="0.22">36</text>
<text x="305.38" y="1150.40" font-size="12.3" font-weight="normal" textLength="14.87" lengthAdjust="spacingAndGlyphs" fill="#1c1c1c" stroke="#1c1c1c" stroke-width="0.22">22</text>
<text x="357.76" y="1150.40" font-size="12.3" font-weight="normal" textLength="15.17" lengthAdjust="spacingAndGlyphs" fill="#1c1c1c" stroke="#1c1c1c" stroke-width="0.22">10</text>
<text x="415.26" y="1150.40" font-size="12.3" font-weight="normal" textLength="6.75" lengthAdjust="spacingAndGlyphs" fill="#1c1c1c" stroke="#1c1c1c" stroke-width="0.22">3</text>
<text x="443.35" y="1150.40" font-size="12.3" font-weight="normal" textLength="70.10" lengthAdjust="spacingAndGlyphs" fill="#1c1c1c" stroke="#1c1c1c" stroke-width="0.22">( Thal-Dex )</text>
</svg>
</body></html>
